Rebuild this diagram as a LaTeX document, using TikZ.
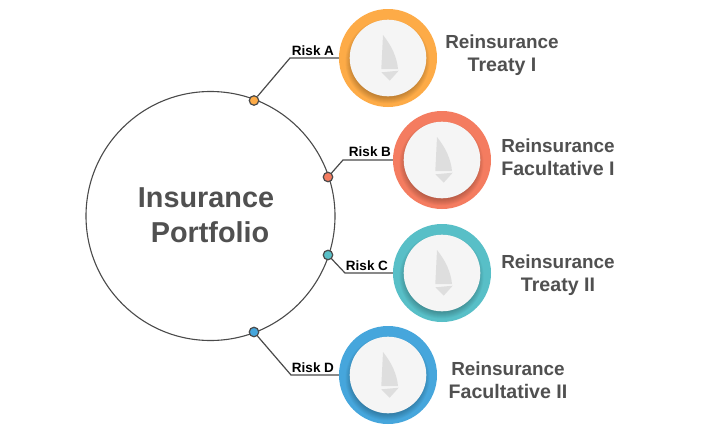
\documentclass[tikz,border=0pt]{standalone}
\usepackage{fontspec}
\setmainfont{Liberation Sans}
\definecolor{cA}{HTML}{FDAB47}
\definecolor{cB}{HTML}{F47C60}
\definecolor{cC}{HTML}{58BFC7}
\definecolor{cD}{HTML}{46A6DC}
\definecolor{ink}{HTML}{505050}
\definecolor{linec}{HTML}{4A4A4A}
\definecolor{disc}{HTML}{F5F5F5}
\definecolor{boat}{HTML}{DEDEDE}
\newcommand{\second}[1]{{\fontsize{19.6}{23}\selectfont #1}}
\tikzset{
  ringnode/.style={circle,minimum size=98pt,inner sep=0pt,fill=#1},
  dotnode/.style={circle,minimum size=9.5pt,inner sep=0pt,draw=linec,line width=1.2pt,fill=#1},
  bignode/.style={circle,minimum size=249pt,inner sep=0pt,draw=linec,line width=1.1pt},
  conn/.style={draw=linec,line width=1.2pt},
  risk/.style={font=\bfseries\fontsize{13.5}{15}\selectfont,text=black,inner sep=0pt,anchor=base},
  title/.style={font=\bfseries\fontsize{18.9}{23}\selectfont,text=ink,align=center,inner sep=0pt},
  big/.style={font=\bfseries\fontsize{28.8}{35}\selectfont,text=ink,align=center,inner sep=0pt}
}
\newcommand{\riskdisc}[3]{% name, x, y
  \begin{scope}
    \clip (#1.center) circle (49pt);
    \foreach \r in {36,37,...,42}{
      \fill[black,opacity=0.035] ($(#2,#3)+(-0.5,3.5)$) circle (\r pt);
    }
  \end{scope}
  \fill[disc] (#2,#3) circle (38.3pt);
  \fill[boat] ($(#2,#3)+(-5,-23)$) .. controls ($(#2,#3)+(4,-12)$) and ($(#2,#3)+(9,0)$) .. ($(#2,#3)+(10,11)$) -- ($(#2,#3)+(-6.7,11)$) -- cycle;
  \fill[boat] ($(#2,#3)+(-6.7,14.3)$) -- ($(#2,#3)+(10.7,12.7)$) -- ($(#2,#3)+(1.7,22.7)$) -- cycle;
}
\usetikzlibrary{calc}
\begin{document}
\begin{tikzpicture}[x=1pt,y=-1pt]
\useasboundingbox[fill=white] (0,0) rectangle (701,431);
\node[bignode] (port) at (210.5,216) {};
\node[big] (portlabel) at (206,215) {Insurance\\[0pt]\ Portfolio};

\node[ringnode=cA] (ringA) at (388,58) {};
\node[ringnode=cB] (ringB) at (442,160) {};
\node[ringnode=cC] (ringC) at (442,273) {};
\node[ringnode=cD] (ringD) at (388,375) {};
\riskdisc{ringA}{388}{58}
\riskdisc{ringB}{442}{160}
\riskdisc{ringC}{442}{273}
\riskdisc{ringD}{388}{375}

\node[dotnode=cA] (dotA) at (254,100.5) {};
\node[dotnode=cB] (dotB) at (328,177) {};
\node[dotnode=cC] (dotC) at (328,255) {};
\node[dotnode=cD] (dotD) at (254,332) {};

\coordinate (elbowA) at (290,58);
\coordinate (elbowB) at (343,160);
\coordinate (elbowC) at (345,273);
\coordinate (elbowD) at (291,375);
\draw[conn] (dotA) -- (elbowA) -- (ringA.west);
\draw[conn] (dotB) -- (elbowB) -- (ringB.west);
\draw[conn] (dotC) -- (elbowC) -- (ringC.west);
\draw[conn] (dotD) -- (elbowD) -- (ringD.west);

\node[risk] (riskA) at (313,55) {Risk A};
\node[risk] (riskB) at (370,156) {Risk B};
\node[risk] (riskC) at (367,270) {Risk C};
\node[risk] (riskD) at (313,372) {Risk D};

\node[title] (labA) at (502,55) {Reinsurance\\\second{Treaty I}};
\node[title] (labB) at (558,157.5) {Reinsurance\\\second{Facultative I}};
\node[title] (labC) at (558,275) {Reinsurance\\\second{Treaty II}};
\node[title] (labD) at (508,380.5) {Reinsurance\\\second{Facultative II}};
\end{tikzpicture}
\end{document}
